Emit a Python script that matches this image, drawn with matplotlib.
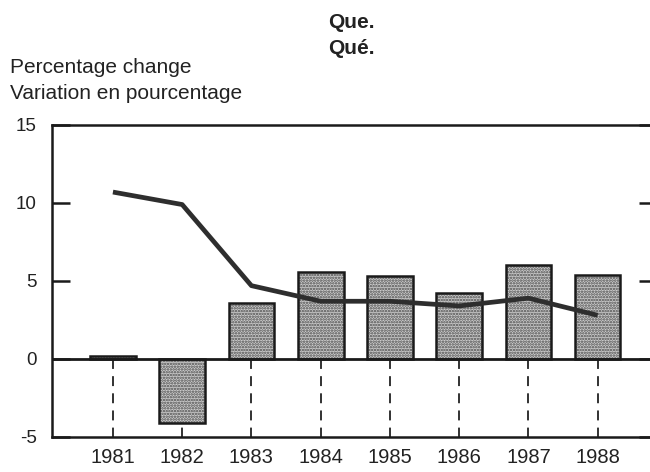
import matplotlib
matplotlib.use('Agg')
import matplotlib.pyplot as plt
import numpy as np

years = ['1981', '1982', '1983', '1984', '1985', '1986', '1987', '1988']
bar_values = [0.2, -4.1, 3.6, 5.6, 5.3, 4.2, 6.0, 5.4]
line_values = [10.7, 9.9, 4.7, 3.7, 3.7, 3.4, 3.9, 2.8]
yticks = [-5, 0, 5, 10, 15]

font = 'Liberation Sans'
txt_col = '#222222'
plt.rcParams['font.family'] = [font, 'DejaVu Sans']
plt.rcParams['hatch.linewidth'] = 1.2

fig = plt.figure(figsize=(6.5, 4.72), dpi=100)
ax = fig.add_axes([0.08, 0.0742, 0.93, 0.661])

x = np.arange(len(years))

# dashed guides below zero
for xi in x:
    ax.plot([xi, xi], [0, -5], color='#222222', linestyle=(0, (5.5, 4)), linewidth=1.3, zorder=1)

# stippled bars: hatch fill first, then black outline on top
ax.bar(x, bar_values, width=0.66, color='#cccccc', hatch='......', edgecolor='#4a4a4a', linewidth=0, zorder=2)
ax.bar(x, bar_values, width=0.66, fill=False, edgecolor='#1a1a1a', linewidth=1.8, zorder=3)

ax.axhline(0, color='#1a1a1a', linewidth=2.0, zorder=4)
ax.plot(x, line_values, color='#2e2e2e', linewidth=3.4, solid_capstyle='butt', zorder=5)

ax.set_xlim(-0.88, 7.85)
ax.set_ylim(-5, 15)
ax.set_yticks(yticks)
ax.set_yticklabels([str(v) for v in yticks], fontsize=13.5, color=txt_col)
ax.set_xticks(x)
ax.set_xticklabels(years, fontsize=14.5, color=txt_col)

ax.tick_params(axis='y', direction='in', length=13, width=1.8, pad=11, right=True, color='#1a1a1a')
ax.tick_params(axis='x', length=0, pad=8)
for s in ax.spines.values():
    s.set_linewidth(1.8)
    s.set_color('#1a1a1a')

fig.text(0.541, 0.953, 'Que.', ha='center', va='center', fontsize=15, fontweight='bold', color=txt_col)
fig.text(0.541, 0.898, 'Qué.', ha='center', va='center', fontsize=15, fontweight='bold', color=txt_col)
fig.text(0.016, 0.858, 'Percentage change', ha='left', va='center', fontsize=15, color=txt_col)
fig.text(0.016, 0.801, 'Variation en pourcentage', ha='left', va='center', fontsize=15, color=txt_col)

fig.savefig('out.png', dpi=100)
